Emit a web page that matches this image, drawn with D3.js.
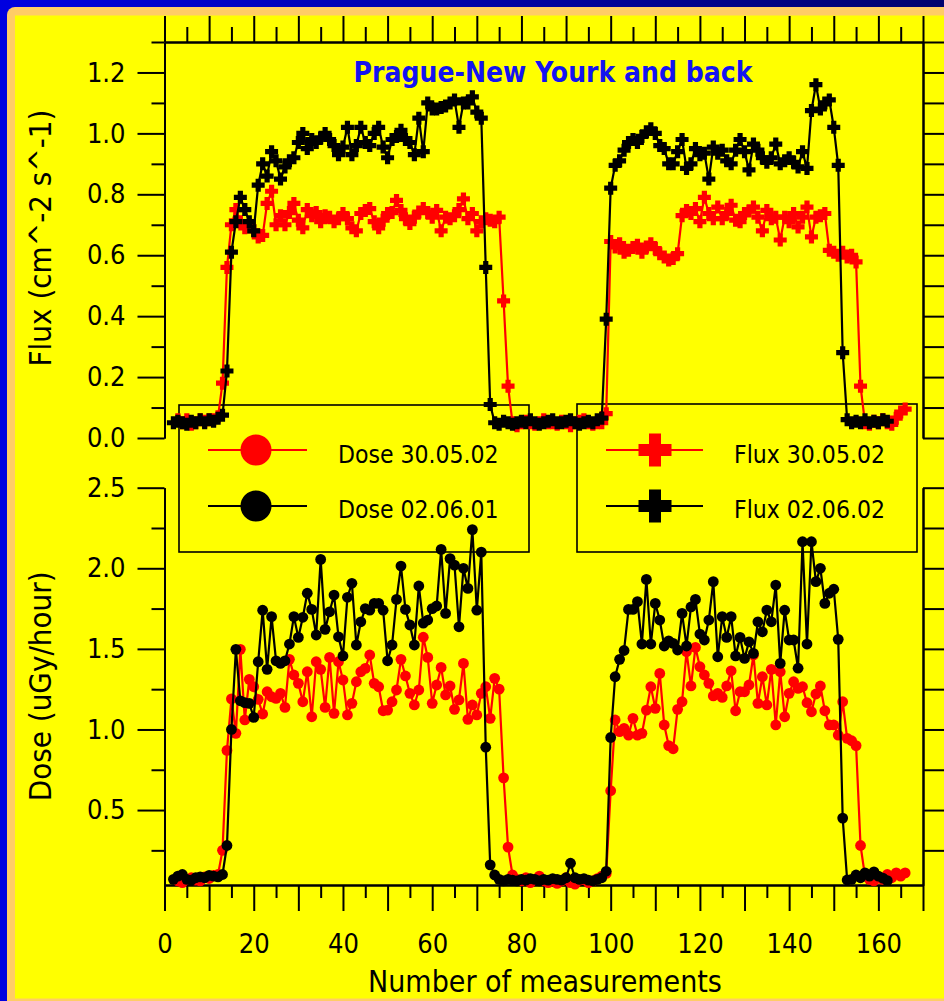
<!DOCTYPE html>
<html>
<head>
<meta charset="utf-8">
<script src="https://cdn.jsdelivr.net/npm/d3@7"></script>
<style>
  html, body { margin: 0; padding: 0; background: #0000e0; }
  svg { display: block; }
</style>
</head>
<body>
<svg id="chart" width="944" height="1001"></svg>
<script>
// ---- Flux, cm^-2 s^-1 (one value per measurement, starting at the given number) ----
const fluxRedFirst = 3;   // Flux 30.05.02
const fluxRed = [
  0.06,0.05,0.06,0.045,0.05,0.06,0.055,0.06,0.06,0.07,
  0.18,0.56,
  0.70,0.75,0.71,0.69,0.70,0.68,0.66,0.665,0.77,0.81,
  0.70,0.73,0.70,0.74,0.77,0.715,0.69,0.75,0.73,0.74,
  0.71,0.73,0.725,0.71,0.72,0.737,0.72,0.69,0.68,0.737,
  0.747,0.753,0.71,0.69,0.715,0.737,0.74,0.78,0.747,0.72,
  0.704,0.725,0.742,0.753,0.74,0.725,0.747,0.68,0.725,0.72,
  0.73,0.75,0.785,0.72,0.737,0.68,0.71,0.72,0.715,0.71,
  0.725,
  0.45,0.17,
  0.05,0.04,0.05,0.055,0.05,0.045,0.05,0.06,0.05,0.05,0.045,0.055,0.05,0.04,0.05,0.055,0.06,0.05,0.045,0.05,0.05,
  0.08,
  0.645,0.627,0.638,0.61,0.616,0.625,0.633,0.61,0.627,0.638,0.622,0.605,0.594,0.584,0.589,0.605,0.73,
  0.747,0.737,0.753,0.71,0.79,0.737,0.72,0.758,0.72,0.737,
  0.764,0.715,0.71,0.737,0.745,0.758,0.725,0.68,0.747,0.72,
  0.725,0.65,0.725,0.71,0.737,0.693,0.725,0.758,0.66,0.725,
  0.73,0.737,0.616,0.61,0.60,0.61,0.594,0.60,0.578,
  0.17,
  0.05,0.045,0.055,0.05,0.06,0.05,0.045,0.065,0.085,0.095
];

const fluxBlackFirst = 2; // Flux 02.06.02
const fluxBlack = [
  0.05,0.055,0.05,0.045,0.055,0.05,0.06,0.05,0.06,0.055,0.065,0.075,
  0.22,0.61,0.71,0.79,0.75,0.71,0.68,0.83,0.90,0.86,
  0.94,0.91,0.85,0.89,0.91,0.92,0.97,1.00,0.95,0.98,
  0.97,0.985,1.00,0.98,0.96,0.93,0.955,1.02,0.93,0.96,
  1.02,0.97,0.96,1.00,1.02,0.955,0.92,0.98,0.99,1.01,
  0.98,0.97,0.93,1.05,0.94,1.10,1.08,1.08,1.085,1.09,
  1.10,1.11,1.02,1.10,1.10,1.12,1.07,1.05,0.56,0.11,
  0.05,0.045,0.055,0.05,0.045,0.05,0.055,0.05,0.06,0.05,0.045,0.05,0.055,0.06,0.05,0.05,0.055,0.06,0.05,0.045,0.05,0.055,0.05,0.06,0.065,
  0.39,0.82,
  0.895,0.91,0.945,0.97,0.98,0.97,0.99,1.005,1.015,1.00,
  0.96,0.95,0.90,0.90,0.94,0.98,0.885,0.90,0.95,0.93,
  0.935,0.85,0.955,0.935,0.945,0.91,0.90,0.945,0.98,0.94,
  0.88,0.965,0.945,0.92,0.905,0.92,0.965,0.90,0.91,0.92,
  0.905,0.89,0.94,0.885,1.075,1.16,1.08,1.10,1.11,1.02,
  0.895,
  0.28,
  0.06,0.05,0.055,0.05,0.06,0.05,0.055,0.05,0.06,0.055
];

// ---- Dose, uGy/hour ----
const doseRedFirst = 3;   // Dose 30.05.02
const doseRed = [
  0.06,0.05,0.07,0.08,0.065,0.06,0.085,0.075,0.095,0.10,
  0.25,0.87,1.19,
  0.976,1.497,1.059,1.311,1.265,1.187,1.096,1.234,1.203,1.193,
  1.224,1.137,1.435,1.338,1.286,1.172,1.358,1.079,1.42,1.373,
  1.137,1.447,1.10,1.42,1.307,1.09,1.162,1.296,1.358,1.379,
  1.462,1.286,1.265,1.116,1.12,1.172,1.245,1.435,1.332,1.224,
  1.152,1.245,1.572,1.447,1.162,1.276,1.385,1.214,1.27,1.125,
  1.183,1.41,1.063,1.152,1.09,1.224,1.265,1.069,1.317,1.25,
  0.70,0.27,
  0.097,0.07,0.06,0.08,0.05,0.07,0.09,0.06,0.05,0.07,0.045,0.06,0.08,0.05,0.04,0.065,0.07,0.05,0.06,0.075,0.09,0.107,
  0.62,
  1.059,0.986,1.007,0.965,1.069,0.965,0.976,1.12,1.265,1.131,
  1.348,1.028,0.90,0.88,1.125,1.172,1.483,1.27,1.509,1.389,
  1.338,1.286,1.208,1.224,1.199,1.27,1.364,1.116,1.234,1.234,
  1.276,1.462,1.162,1.327,1.152,1.373,1.028,1.358,1.079,1.224,
  1.296,1.255,1.265,1.166,1.11,1.22,1.27,1.116,1.028,1.028,
  0.965,1.172,0.945,0.93,0.90,
  0.28,
  0.09,0.07,0.06,0.08,0.07,0.10,0.08,0.11,0.09,0.11
];

const doseBlackFirst = 2; // Dose 02.06.01
const doseBlack = [
  0.07,0.09,0.10,0.07,0.065,0.08,0.085,0.08,0.095,0.09,0.085,0.10,
  0.28,
  1.00,1.497,1.178,1.166,1.162,1.075,1.42,1.74,1.373,1.70,
  1.426,1.41,1.426,1.53,1.70,1.571,1.696,1.845,1.745,1.586,
  2.055,1.621,1.73,1.834,1.575,1.456,1.82,1.907,1.524,1.668,
  1.75,1.74,1.782,1.782,1.74,1.426,1.524,1.807,2.014,1.745,
  1.648,1.524,1.89,1.66,1.679,1.75,1.766,2.117,1.72,2.06,
  2.02,1.637,2.0,1.875,2.24,1.74,2.10,
  0.89,0.16,
  0.097,0.07,0.06,0.07,0.065,0.06,0.07,0.065,0.075,0.07,0.06,0.07,0.065,0.075,0.07,0.065,0.08,0.17,0.08,0.07,0.075,0.065,0.06,0.07,0.08,
  0.12,0.95,
  1.327,1.435,1.49,1.745,1.745,1.793,1.53,1.931,1.53,1.782,
  1.679,1.518,1.55,1.534,1.493,1.72,1.518,1.76,1.807,1.592,
  1.555,1.679,1.917,1.451,1.70,1.571,1.70,1.456,1.571,1.441,
  1.544,1.472,1.668,1.606,1.741,1.668,1.896,1.41,1.74,1.555,
  1.555,1.38,2.165,1.53,2.165,1.917,2.0,1.782,1.845,1.87,
  1.559,
  0.45,
  0.066,0.07,0.097,0.08,0.11,0.09,0.117,0.09,0.078,0.062
];

// ---- Ticks and labels ----
const fluxTicks      = [0, 0.2, 0.4, 0.6, 0.8, 1.0, 1.2];
const fluxMinorTicks = [0.1, 0.3, 0.5, 0.7, 0.9, 1.1, 1.3];
const doseTicks      = [0.5, 1.0, 1.5, 2.0, 2.5];
const doseMinorTicks = [0.25, 0.75, 1.25, 1.75, 2.25];
const measureTicks      = [0,10,20,30,40,50,60,70,80,90,100,110,120,130,140,150,160,170];
const measureMinorTicks = [5,15,25,35,45,55,65,75,85,95,105,115,125,135,145,155,165];
const measureLabels     = [0,20,40,60,80,100,120,140,160];

const titleText = "Prague-New Yourk and back";
const xTitle = "Number of measurements";
const fluxTitle = "Flux (cm^-2 s^-1)";
const doseTitle = "Dose (uGy/hour)";
const doseLegend = [
  { label: "Dose 30.05.02", color: "#ff0000" },
  { label: "Dose 02.06.01", color: "#000000" }
];
const fluxLegend = [
  { label: "Flux 30.05.02", color: "#ff0000" },
  { label: "Flux 02.06.02", color: "#000000" }
];

// ---- Drawing ----
const W = 944, H = 1001;
const FONT = "'DejaVu Sans Condensed', 'DejaVu Sans', sans-serif";
const svg = d3.select("#chart");

// window frame: blue edge, peach bevel, yellow canvas
const defs = svg.append("defs");
const grad = defs.append("linearGradient").attr("id", "titlebar")
  .attr("x1", "0").attr("x2", "1").attr("y1", "0").attr("y2", "0");
grad.append("stop").attr("offset", "0").attr("stop-color", "#0000e0");
grad.append("stop").attr("offset", "1").attr("stop-color", "#00006e");
svg.append("rect").attr("width", W).attr("height", H).attr("fill", "#0000e0");
svg.append("rect").attr("width", W).attr("height", 7).attr("fill", "url(#titlebar)");
svg.append("rect").attr("x", 7).attr("y", 7).attr("width", W + 20).attr("height", H + 20)
  .attr("rx", 8).attr("fill", "#ffcc66");
svg.append("rect").attr("x", 15).attr("y", 15.5).attr("width", W).attr("height", 983)
  .attr("fill", "#ffff00");

const x = d3.scaleLinear().domain([0, 170]).range([164.5, 923]);
const yFlux = d3.scaleLinear().domain([0, 1.3]).range([438, 42]);
const yDose = d3.scaleLinear().domain([0.035, 2.5]).range([885, 487.7]);
const xLeft = x.range()[0], xRight = x.range()[1];

function drawAxis(axis, tx, ty) {
  const g = svg.append("g").attr("transform", `translate(${tx},${ty})`).call(axis);
  g.attr("font-family", FONT).attr("font-size", 27);
  g.selectAll("path.domain, .tick line").attr("stroke", "#000").attr("stroke-width", 2);
  g.selectAll("text").attr("fill", "#000");
  return g;
}
const fmt1 = d3.format(".1f");

// top panel: left, top and right axes
drawAxis(d3.axisLeft(yFlux).tickValues(fluxMinorTicks).tickSize(13).tickSizeOuter(0).tickFormat(""), xLeft, 0);
drawAxis(d3.axisLeft(yFlux).tickValues(fluxTicks).tickSize(27).tickSizeOuter(0).tickPadding(12).tickFormat(fmt1), xLeft, 0);
drawAxis(d3.axisRight(yFlux).tickValues(fluxMinorTicks).tickSize(22).tickSizeOuter(0).tickFormat(""), xRight, 0);
drawAxis(d3.axisRight(yFlux).tickValues(fluxTicks).tickSize(22).tickSizeOuter(0).tickFormat(""), xRight, 0);
drawAxis(d3.axisTop(x).tickValues(measureMinorTicks).tickSize(15).tickSizeOuter(0).tickFormat(""), 0, yFlux.range()[1]);
drawAxis(d3.axisTop(x).tickValues(measureTicks).tickSize(26).tickSizeOuter(0).tickFormat(""), 0, yFlux.range()[1]);

// bottom panel: left, right and bottom axes
drawAxis(d3.axisLeft(yDose).tickValues(doseMinorTicks).tickSize(13).tickSizeOuter(0).tickFormat(""), xLeft, 0);
drawAxis(d3.axisLeft(yDose).tickValues(doseTicks).tickSize(27).tickSizeOuter(0).tickPadding(12).tickFormat(fmt1), xLeft, 0);
drawAxis(d3.axisRight(yDose).tickValues(doseMinorTicks).tickSize(22).tickSizeOuter(0).tickFormat(""), xRight, 0);
drawAxis(d3.axisRight(yDose).tickValues(doseTicks).tickSize(22).tickSizeOuter(0).tickFormat(""), xRight, 0);
drawAxis(d3.axisBottom(x).tickValues(measureMinorTicks).tickSize(13).tickSizeOuter(0).tickFormat(""), 0, yDose.range()[0]);
drawAxis(d3.axisBottom(x).tickValues(measureTicks).tickSize(26).tickSizeOuter(0).tickPadding(23)
  .tickFormat(d => measureLabels.includes(d) ? String(d) : ""), 0, yDose.range()[0]);

// axis titles and chart title
svg.append("text").attr("x", 545).attr("y", 992).attr("text-anchor", "middle")
  .attr("font-family", FONT).attr("font-size", 30).attr("fill", "#000").text(xTitle);
svg.append("text").attr("transform", `translate(51,${(yFlux.range()[0] + yFlux.range()[1]) / 2 - 2}) rotate(-90)`)
  .attr("text-anchor", "middle").attr("font-family", FONT).attr("font-size", 31).attr("fill", "#000").text(fluxTitle);
svg.append("text").attr("transform", `translate(51,${(yDose.range()[0] + yDose.range()[1]) / 2}) rotate(-90)`)
  .attr("text-anchor", "middle").attr("font-family", FONT).attr("font-size", 31).attr("fill", "#000").text(doseTitle);
svg.append("text").attr("x", 553).attr("y", 82).attr("text-anchor", "middle")
  .attr("font-family", FONT).attr("font-weight", "bold").attr("font-size", 28).attr("fill", "#1414f0")
  .text(titleText);

// plus-shaped marker
const plusPath = (s, t) =>
  `M${-t},${-s}H${t}V${-t}H${s}V${t}H${t}V${s}H${-t}V${t}H${-s}V${-t}H${-t}Z`;

// legends (open boxes; the data are drawn over them)
function legendBox(bx, by, bw, bh) {
  svg.append("rect").attr("x", bx).attr("y", by).attr("width", bw).attr("height", bh)
    .attr("fill", "none").attr("stroke", "#000").attr("stroke-width", 1.6);
}
legendBox(179, 405, 350, 147);
legendBox(577, 404, 340, 148);
const legendRows = [450, 506];
const legendTextRows = [463, 518];
doseLegend.forEach((d, i) => {
  const g = svg.append("g");
  g.append("line").attr("x1", 208).attr("x2", 307).attr("y1", legendRows[i]).attr("y2", legendRows[i])
    .attr("stroke", d.color).attr("stroke-width", 2);
  g.append("circle").attr("cx", 256).attr("cy", legendRows[i]).attr("r", 15.5).attr("fill", d.color);
  g.append("text").attr("x", 338).attr("y", legendTextRows[i]).attr("font-family", FONT)
    .attr("font-size", 24.5).attr("fill", "#000").text(d.label);
});
fluxLegend.forEach((d, i) => {
  const g = svg.append("g");
  g.append("line").attr("x1", 606).attr("x2", 703).attr("y1", legendRows[i]).attr("y2", legendRows[i])
    .attr("stroke", d.color).attr("stroke-width", 2);
  g.append("path").attr("transform", `translate(655,${legendRows[i]})`).attr("d", plusPath(16.5, 6))
    .attr("fill", d.color);
  g.append("text").attr("x", 734).attr("y", legendTextRows[i]).attr("font-family", FONT)
    .attr("font-size", 24.5).attr("fill", "#000").text(d.label);
});

// data series
const toPoints = (values, first) => values.map((v, i) => ({ n: first + i, v }));

function drawFlux(values, first, color) {
  const pts = toPoints(values, first);
  const g = svg.append("g");
  g.append("path").datum(pts)
    .attr("d", d3.line().x(d => x(d.n)).y(d => yFlux(d.v)))
    .attr("fill", "none").attr("stroke", color).attr("stroke-width", 2.2).attr("stroke-linejoin", "round");
  g.selectAll("path.mark").data(pts).join("path").attr("class", "mark")
    .attr("transform", d => `translate(${x(d.n)},${yFlux(d.v)})`)
    .attr("d", plusPath(6.5, 2.6)).attr("fill", color);
}
function drawDose(values, first, color) {
  const pts = toPoints(values, first);
  const g = svg.append("g");
  g.append("path").datum(pts)
    .attr("d", d3.line().x(d => x(d.n)).y(d => yDose(d.v)))
    .attr("fill", "none").attr("stroke", color).attr("stroke-width", 2.2).attr("stroke-linejoin", "round");
  g.selectAll("circle").data(pts).join("circle")
    .attr("cx", d => x(d.n)).attr("cy", d => yDose(d.v)).attr("r", 5.4).attr("fill", color);
}

drawFlux(fluxRed, fluxRedFirst, "#ff0000");
drawFlux(fluxBlack, fluxBlackFirst, "#000000");
drawDose(doseRed, doseRedFirst, "#ff0000");
drawDose(doseBlack, doseBlackFirst, "#000000");
</script>
</body>
</html>
